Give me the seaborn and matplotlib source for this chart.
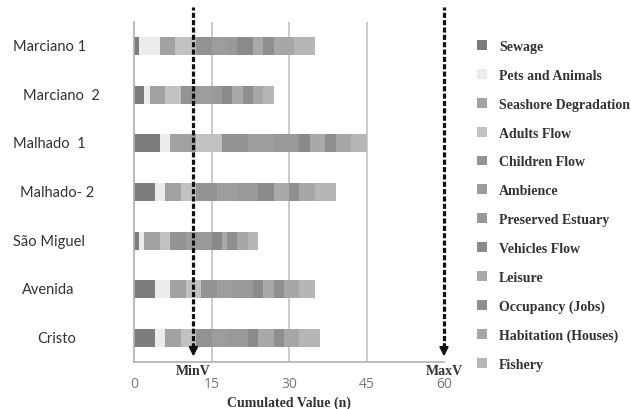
import seaborn as sns
import matplotlib.pyplot as plt
import pandas as pd
import numpy as np
from matplotlib.patches import Patch

sites = ["Marciano 1", "Marciano  2", "Malhado  1", "Malhado- 2", "São Miguel", "Avenida", "Cristo"]
factors = ["Sewage", "Pets and Animals", "Seashore Degradation", "Adults Flow", "Children Flow",
           "Ambience", "Preserved Estuary", "Vehicles Flow", "Leisure", "Occupancy (Jobs)",
           "Habitation (Houses)", "Fishery"]

sewage = [1, 2, 5, 4, 1, 4, 4]
pets = [4, 1, 2, 2, 1, 3, 2]
seashore = [3, 3, 5, 3, 3, 3, 3]
adults = [4, 3, 5, 3, 2, 3, 3]
children = [3, 3, 5, 4, 3, 3, 3]
ambience = [3, 3, 5, 4, 2, 3, 3]
preserved = [2, 2, 5, 4, 3, 4, 4]
vehicles = [3, 2, 2, 3, 2, 2, 2]
leisure = [2, 2, 3, 3, 1, 2, 3]
occupancy = [2, 2, 2, 2, 2, 2, 2]
habitation = [4, 2, 3, 3, 2, 3, 3]
fishery = [4, 2, 3, 4, 2, 3, 4]

min_v = 11.5
max_v = 60
xticks = [0, 15, 30, 45, 60]

colors = ["#7c7c7c", "#ececec", "#a2a2a2", "#c2c2c2", "#939393", "#9d9d9d",
          "#999999", "#8a8a8a", "#a9a9a9", "#8f8f8f", "#a7a7a7", "#b6b6b6"]

df = pd.DataFrame({"site": sites, "Sewage": sewage, "Pets and Animals": pets,
                   "Seashore Degradation": seashore, "Adults Flow": adults,
                   "Children Flow": children, "Ambience": ambience,
                   "Preserved Estuary": preserved, "Vehicles Flow": vehicles,
                   "Leisure": leisure, "Occupancy (Jobs)": occupancy,
                   "Habitation (Houses)": habitation, "Fishery": fishery})
cum = df[factors].cumsum(axis=1)
cum["site"] = df["site"]

sns.set_style("white")
fig = plt.figure(figsize=(6.31, 4.10), dpi=100)
ax = fig.add_axes([134 / 631, 1 - 363 / 410, 310 / 631, 340 / 410])

# stacked bars: draw cumulative totals from the largest down
for i in reversed(range(len(factors))):
    sns.barplot(data=cum, x=factors[i], y="site", color=colors[i], orient="h",
                width=0.37, saturation=1, errorbar=None, linewidth=0, ax=ax, zorder=2)

ax.set_xlim(0, 60)
ax.set_ylim(6.5, -0.5)
ax.set_xticks(xticks)
ax.set_xticklabels([str(t) for t in xticks], family="Open Sans", fontsize=10, color="#777777")
ax.tick_params(axis="x", length=4, color="#b0b0b0", pad=6)
for x in xticks[1:-1]:
    ax.axvline(x, color="#c8c8c8", lw=1.3, zorder=1)

ax.set_yticks(range(len(sites)))
ax.set_yticklabels([])
ax.tick_params(axis="y", which="major", length=0)
ax.set_yticks(np.arange(-0.5, len(sites), 1), minor=True)
ax.tick_params(axis="y", which="minor", length=5, color="#b0b0b0", width=1)

for s in ["top", "right"]:
    ax.spines[s].set_visible(False)
for s in ["left", "bottom"]:
    ax.spines[s].set_color("#b0b0b0")
    ax.spines[s].set_linewidth(1.2)

ax.set_xlabel("Cumulated Value (n)", family="Liberation Serif", fontweight="bold",
              fontsize=10, color="#333333", labelpad=3)
ax.set_ylabel("")

# site labels
label_left_px = [13, 23, 13, 20, 13, 22, 37]
for i, (name, px) in enumerate(zip(sites, label_left_px)):
    ax.text((px - 134) / 310, i, name, transform=ax.get_yaxis_transform(),
            ha="left", va="center", family="Lato", fontsize=10.5, color="#333333")

# MinV / MaxV dashed arrows
for v, lab in [(min_v, "MinV"), (max_v, "MaxV")]:
    ax.vlines(v, 0.04, 1.045, transform=ax.get_xaxis_transform(), colors="#111111",
              lw=2.3, linestyles=(0, (1.6, 0.7)), clip_on=False, zorder=5)
    ax.annotate("", xy=(v, 0.008), xytext=(v, 0.06), xycoords=ax.get_xaxis_transform(),
                arrowprops=dict(arrowstyle="-|>", color="#111111", lw=1.5, mutation_scale=13),
                annotation_clip=False, zorder=6)
    ax.text(v, -0.025, lab, transform=ax.get_xaxis_transform(), ha="center", va="center",
            family="Liberation Serif", fontweight="bold", fontsize=10, color="#333333")

handles = [Patch(facecolor=c, edgecolor="none") for c in colors]
fig.legend(handles, factors, loc="upper left", bbox_to_anchor=(477 / 631, 1 - 41 / 410),
           frameon=False, borderpad=0, borderaxespad=0, handlelength=0.7, handleheight=0.7,
           handletextpad=0.9, labelspacing=1.14,
           prop={"family": "Liberation Serif", "weight": "bold", "size": 10},
           labelcolor="#333333")

plt.savefig("out.png", dpi=100)
